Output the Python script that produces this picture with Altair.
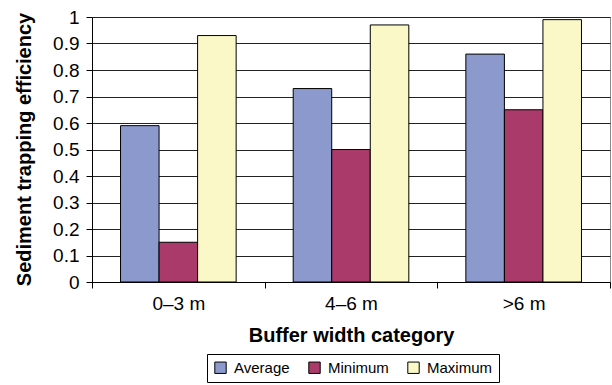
import altair as alt
import pandas as pd

# Buffer width categories and trapping efficiency per statistic
categories = ["0\u20133 m", "4\u20136 m", ">6 m"]
series = ["Average", "Minimum", "Maximum"]
average = [0.59, 0.73, 0.86]
minimum = [0.15, 0.50, 0.65]
maximum = [0.93, 0.97, 0.99]
colors = ["#8c99cc", "#aa3a6a", "#fbf8c8"]

rows = []
for name, vals in zip(series, [average, minimum, maximum]):
    for cat, v in zip(categories, vals):
        rows.append({"category": cat, "stat": name, "value": v})
df = pd.DataFrame(rows)

FONT = "Liberation Sans"

chart = (
    alt.Chart(df)
    .mark_bar(stroke="black", strokeWidth=1)
    .encode(
        x=alt.X(
            "category:N",
            sort=categories,
            scale=alt.Scale(paddingInner=0, paddingOuter=0),
            axis=alt.Axis(
                title="Buffer width category",
                labelAngle=0,
                tickBand="extent",
                tickSize=6,
                tickColor="black",
                domainColor="black",
                labelFontSize=19,
                labelPadding=6,
                labelColor="black",
                titleFontSize=20,
                titleFontWeight="bold",
                titleColor="black",
                titleY=53,
                titleBaseline="middle",
            ),
        ),
        xOffset=alt.XOffset(
            "stat:N",
            sort=series,
            scale=alt.Scale(paddingInner=0, paddingOuter=0.74),
        ),
        y=alt.Y(
            "value:Q",
            scale=alt.Scale(domain=[0, 1], nice=False),
            axis=alt.Axis(
                title="Sediment trapping efficiency",
                values=[i / 10 for i in range(11)],
                format="~g",
                tickSize=6,
                tickColor="black",
                domainColor="black",
                gridColor="#222222",
                gridWidth=1,
                labelFontSize=19,
                labelPadding=7,
                labelColor="black",
                titleFontSize=20,
                titleFontWeight="bold",
                titleColor="black",
                titleX=-68,
                titleY=132,
                titleBaseline="middle",
            ),
        ),
        color=alt.Color(
            "stat:N",
            sort=series,
            scale=alt.Scale(domain=series, range=colors),
            legend=alt.Legend(
                title=None,
                orient="none",
                direction="horizontal",
                legendX=115,
                legendY=337,
                symbolType="square",
                symbolSize=130,
                symbolStrokeColor="black",
                symbolStrokeWidth=1,
                symbolOpacity=1,
                labelFontSize=15,
                labelOffset=6,
                labelColor="black",
                strokeColor="black",
                padding=6,
                columnPadding=16,
            ),
        ),
    )
    .properties(
        width=518,
        height=265,
        padding={"left": 92, "top": 17, "right": 2, "bottom": 103},
        autosize=alt.AutoSizeParams(type="none"),
    )
    .configure(font=FONT)
    .configure_view(stroke="#8a8a8a", strokeWidth=1)
    .configure_axis(grid=True)
    .configure_axisX(grid=False)
)

chart.save("out.html", embed_options={"renderer": "svg", "actions": False})
